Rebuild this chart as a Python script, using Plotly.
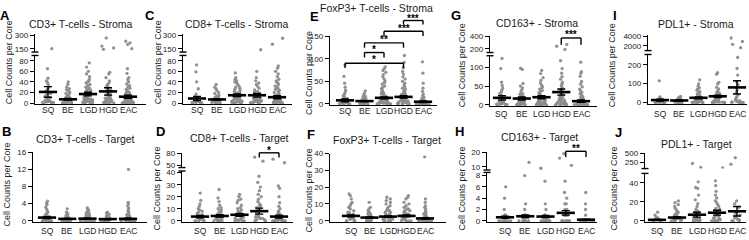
import plotly.graph_objects as go

W, H = 749, 240
CATEGORIES = ["SQ", "BE", "LGD", "HGD", "EAC"]

# ---------------- data (cell counts per core) -------------
# A: CD3+ T-cells - Stroma
A_SQ = [152, 65, 47, 42, 39, 35, 30, 27, 25, 22, 20, 18, 15, 12, 10, 8, 6, 5, 4, 3, 3, 2, 2, 1, 1, 0, 0]
A_BE = [40, 35, 30, 27, 25, 22, 20, 18, 16, 14, 12, 11, 10, 9, 8, 7, 7, 6, 5, 5, 4, 4, 3, 3, 2, 2, 2, 1, 1, 1, 0, 0, 0, 0]
A_LGD = [76, 68, 60, 55, 50, 45, 42, 40, 38, 35, 33, 30, 28, 27, 25, 24, 22, 20, 20, 18, 17, 16, 15, 14, 13, 12, 11, 10, 10, 9, 8, 8, 7, 6, 6, 5, 5, 4, 4, 3, 3, 2, 2, 1, 1, 0, 0, 0, 0]
A_HGD = [268, 180, 160, 145, 58, 55, 48, 42, 38, 35, 32, 30, 28, 25, 23, 22, 20, 18, 16, 15, 14, 12, 11, 10, 9, 8, 7, 6, 5, 5, 4, 3, 3, 2, 2, 1, 1, 0, 0, 0]
A_EAC = [233, 215, 197, 152, 65, 56, 48, 44, 40, 36, 33, 30, 28, 26, 24, 22, 20, 18, 17, 16, 15, 14, 13, 12, 11, 10, 9, 8, 8, 7, 6, 6, 5, 5, 4, 4, 3, 3, 2, 2, 2, 1, 1, 1, 0, 0, 0, 0, 0, 0]
A_MEAN = [21, 7, 17, 22, 12]
A_SEM = [10, 1.5, 3.5, 7, 3]

# C: CD8+ T-cells - Stroma
C_SQ = [72, 59, 40, 27, 17, 12, 10, 8, 6, 5, 4, 3, 2, 2, 1, 1, 0, 0, 0]
C_BE = [35, 30, 27, 24, 20, 18, 15, 13, 12, 10, 9, 8, 7, 6, 5, 5, 4, 3, 3, 2, 2, 1, 1, 0, 0, 0]
C_LGD = [57, 48, 45, 42, 40, 38, 35, 32, 30, 28, 26, 24, 22, 20, 19, 18, 16, 15, 14, 13, 12, 11, 10, 9, 8, 7, 6, 5, 4, 4, 3, 3, 2, 2, 1, 1, 0, 0, 0]
C_HGD = [140, 60, 48, 42, 38, 35, 32, 28, 25, 22, 20, 18, 16, 14, 12, 11, 10, 9, 8, 7, 6, 5, 4, 3, 3, 2, 2, 1, 1, 0, 0, 0]
C_EAC = [265, 200, 70, 66, 60, 55, 50, 45, 42, 40, 38, 35, 32, 30, 28, 26, 24, 22, 20, 18, 16, 15, 14, 12, 11, 10, 9, 8, 7, 6, 5, 5, 4, 4, 3, 3, 2, 2, 1, 1, 1, 0, 0, 0, 0, 0]
C_MEAN = [8.6, 6.8, 14.7, 14.7, 11]
C_SEM = [4, 1.5, 2.5, 3.5, 3]

# E: FoxP3+ T-cells - Stroma
E_SQ = [86, 61, 46, 37, 30, 25, 21, 18, 15, 12, 10, 8, 7, 6, 5, 4, 3, 3, 2, 2, 1, 1, 0, 0, 0]
E_BE = [29, 24, 20, 17, 15, 13, 12, 10, 9, 8, 7, 6, 5, 5, 4, 4, 3, 3, 2, 2, 1, 1, 1, 0, 0, 0, 0]
E_LGD = [82, 78, 74, 70, 65, 60, 55, 50, 47, 44, 40, 37, 34, 31, 28, 26, 24, 22, 20, 18, 16, 15, 14, 13, 12, 11, 10, 9, 8, 7, 6, 5, 5, 4, 4, 3, 3, 2, 2, 1, 1, 0, 0, 0, 0]
E_HGD = [107, 92, 80, 72, 66, 60, 55, 50, 46, 42, 38, 35, 32, 29, 27, 25, 23, 21, 20, 18, 17, 16, 15, 14, 13, 12, 11, 10, 9, 8, 7, 6, 6, 5, 4, 4, 3, 3, 2, 2, 1, 1, 0, 0, 0]
E_EAC = [93, 68, 46, 35, 28, 22, 18, 15, 12, 10, 9, 8, 7, 6, 5, 4, 4, 3, 3, 2, 2, 2, 1, 1, 1, 1, 0, 0, 0, 0, 0, 0, 0, 0]
E_MEAN = [8, 6.4, 13.6, 15.7, 5]
E_SEM = [3, 1, 2, 2.5, 2]

# G: CD163+ - Stroma
G_SQ = [123, 96, 60, 52, 45, 40, 35, 30, 26, 22, 20, 18, 15, 12, 10, 8, 6, 5, 4, 3, 2, 2, 1, 0, 0]
G_BE = [97, 94, 57, 50, 45, 40, 35, 30, 28, 25, 22, 20, 18, 16, 14, 12, 10, 9, 8, 7, 6, 5, 4, 3, 2, 2, 1, 1, 0, 0, 0]
G_LGD = [91, 83, 72, 65, 58, 52, 48, 45, 42, 38, 35, 32, 30, 28, 25, 23, 21, 20, 18, 16, 15, 14, 12, 11, 10, 9, 8, 7, 6, 5, 4, 3, 3, 2, 2, 1, 1, 0, 0, 0]
G_HGD = [268, 240, 190, 117, 96, 84, 75, 68, 60, 55, 50, 46, 42, 38, 35, 32, 30, 28, 26, 24, 22, 20, 18, 16, 15, 14, 12, 10, 9, 8, 7, 6, 5, 4, 3, 2, 2, 1, 1, 0, 0, 0]
G_EAC = [113, 88, 84, 76, 62, 55, 48, 42, 38, 33, 30, 26, 22, 20, 18, 15, 13, 11, 10, 9, 8, 7, 6, 5, 4, 4, 3, 3, 2, 2, 1, 1, 1, 0, 0, 0, 0, 0, 0, 0]
G_MEAN = [18.8, 17, 20.5, 34, 10]
G_SEM = [6, 4, 4, 8, 3]

# I: PDL1+ - Stroma
I_SQ = [115, 30, 22, 18, 14, 10, 8, 6, 5, 4, 3, 2, 2, 1, 1, 0, 0, 0]
I_BE = [32, 28, 24, 20, 17, 15, 12, 10, 8, 7, 6, 5, 4, 3, 2, 2, 1, 1, 0, 0, 0]
I_LGD = [120, 98, 88, 78, 72, 65, 58, 52, 46, 40, 35, 30, 26, 22, 19, 16, 14, 12, 10, 8, 7, 6, 5, 4, 3, 2, 2, 1, 1, 0, 0, 0]
I_HGD = [158, 150, 107, 98, 80, 72, 62, 55, 48, 42, 36, 30, 26, 22, 18, 15, 12, 10, 8, 7, 6, 5, 4, 3, 2, 2, 1, 1, 0, 0, 0]
I_EAC = [3600, 2900, 2300, 1600, 238, 180, 145, 110, 95, 80, 65, 52, 40, 30, 22, 15, 10, 8, 6, 4, 3, 2, 1, 0, 0, 0]
I_MEAN = [13, 11, 25, 33, 80]
I_SEM = [5, 3, 5, 6, 35]

# B: CD3+ T-cells - Target
B_SQ = [4.6, 4.2, 3.8, 3.2, 2.8, 2.4, 2.0, 1.8, 1.5, 1.3, 1.1, 1.0, 0.9, 0.8, 0.7, 0.6, 0.5, 0.4, 0.3, 0.2, 0.1, 0, 0, 0, 0, 0, 0]
B_BE = [2.8, 2.0, 1.6, 1.3, 1.1, 0.9, 0.8, 0.7, 0.6, 0.5, 0.4, 0.3, 0.3, 0.2, 0.2, 0.1, 0.1, 0, 0, 0, 0, 0, 0, 0]
B_LGD = [3.0, 2.7, 2.4, 2.0, 1.7, 1.5, 1.3, 1.1, 1.0, 0.9, 0.8, 0.7, 0.6, 0.5, 0.4, 0.3, 0.3, 0.2, 0.1, 0.1, 0, 0, 0, 0, 0, 0, 0, 0]
B_HGD = [2.0, 1.8, 1.5, 1.3, 1.1, 0.9, 0.8, 0.7, 0.6, 0.5, 0.4, 0.3, 0.2, 0.2, 0.1, 0.1, 0, 0, 0, 0, 0, 0, 0]
B_EAC = [12, 4.3, 4.0, 3.5, 3.0, 2.6, 2.2, 1.9, 1.6, 1.4, 1.2, 1.0, 0.9, 0.8, 0.7, 0.6, 0.5, 0.4, 0.3, 0.2, 0.2, 0.1, 0.1, 0, 0, 0, 0, 0, 0, 0, 0, 0]
B_MEAN = [0.75, 0.45, 0.5, 0.4, 0.45]
B_SEM = [0.2, 0.12, 0.12, 0.1, 0.15]

# D: CD8+ T-cells - Target
D_SQ = [23, 17, 14, 12, 10, 9, 8, 7, 6, 5, 4, 3, 3, 2, 2, 1, 1, 0, 0, 0, 0, 0]
D_BE = [26, 19, 16, 13, 11, 10, 9, 8, 7, 6, 5, 4, 3, 3, 2, 2, 1, 1, 0, 0, 0, 0, 0]
D_LGD = [22, 20, 18, 17, 15, 13, 11, 10, 9, 8, 7, 6, 5, 5, 4, 3, 3, 2, 2, 1, 1, 0, 0, 0, 0]
D_HGD = [70, 60, 37, 32, 28, 25, 22, 20, 18, 16, 14, 13, 12, 11, 10, 9, 8, 7, 6, 5, 4, 3, 3, 2, 2, 1, 1, 0, 0, 0, 0]
D_EAC = [65, 56, 29, 27, 20, 15, 12, 10, 8, 7, 6, 5, 4, 4, 3, 3, 2, 2, 1, 1, 1, 0, 0, 0, 0, 0, 0, 0]
D_MEAN = [3.5, 4, 5, 8, 3.5]
D_SEM = [1, 1, 1.2, 2.5, 1.2]

# F: FoxP3+ T-cells - Target
F_SQ = [16, 15, 13, 11, 10, 9, 8, 7, 6, 5, 5, 4, 4, 3, 3, 2, 2, 1, 1, 1, 0, 0, 0, 0]
F_BE = [11, 8, 7, 6, 5, 5, 4, 4, 3, 3, 2, 2, 2, 1, 1, 1, 1, 0, 0, 0, 0, 0, 0]
F_LGD = [14, 13, 12, 11, 10, 9, 8, 7, 6, 6, 5, 5, 4, 4, 3, 3, 3, 2, 2, 2, 1, 1, 1, 1, 0, 0, 0, 0, 0]
F_HGD = [15, 14, 13, 11, 10, 9, 8, 7, 7, 6, 6, 5, 5, 4, 4, 3, 3, 3, 2, 2, 2, 1, 1, 1, 0, 0, 0, 0]
F_EAC = [38, 13, 11, 9, 8, 7, 6, 5, 5, 4, 4, 3, 3, 2, 2, 2, 1, 1, 1, 1, 1, 0, 0, 0, 0, 0, 0, 0, 0, 0, 0]
F_MEAN = [2.9, 1.9, 2.5, 2.9, 1.4]
F_SEM = [0.6, 0.4, 0.4, 0.5, 0.4]

# H: CD163+ - Target
H_SQ = [6, 4, 2, 1, 1, 1, 0, 0, 0, 0, 0, 0, 0, 0, 0, 0]
H_BE = [13, 8, 3, 2, 1, 1, 1, 0, 0, 0, 0, 0, 0, 0, 0, 0, 0]
H_LGD = [9, 7, 3, 2, 1, 1, 1, 0, 0, 0, 0, 0, 0, 0, 0, 0, 0]
H_HGD = [19, 16, 11, 7, 5, 4, 3, 3, 2, 2, 1, 1, 1, 1, 0, 0, 0, 0, 0, 0, 0, 0]
H_EAC = [5, 3, 2, 1, 0, 0, 0, 0, 0, 0, 0, 0, 0, 0, 0, 0, 0, 0, 0]
H_MEAN = [0.62, 0.8, 0.75, 1.4, 0.2]
H_SEM = [0.2, 0.25, 0.2, 0.4, 0.1]

# J: PDL1+ - Target
J_SQ = [9, 6, 4, 3, 2, 1, 1, 0, 0, 0, 0]
J_BE = [21, 19, 17, 15, 13, 11, 9, 8, 7, 6, 5, 4, 3, 3, 2, 2, 1, 1, 0, 0, 0, 0]
J_LGD = [220, 110, 41, 35, 34, 27, 22, 18, 15, 12, 10, 9, 8, 7, 6, 5, 4, 3, 2, 2, 1, 1, 0, 0, 0, 0]
J_HGD = [95, 42, 37, 31, 27, 24, 21, 19, 17, 15, 13, 12, 11, 10, 9, 8, 7, 6, 5, 4, 3, 2, 2, 1, 1, 0, 0, 0, 0]
J_EAC = [380, 200, 21, 18, 14, 10, 8, 6, 4, 3, 2, 1, 1, 0, 0, 0]
J_MEAN = [1, 3.4, 6.4, 8.5, 10]
J_SEM = [0.5, 1, 2.5, 2.5, 5]

# ---------------- layout geometry (pixels) ------------------------------------
FONT = "Liberation Sans, Arial, sans-serif"
PT_COLOR = "#8c8c8c"
TXT = "#1a1a1a"

panels = [
    dict(letter="A", title="CD3+ T-cells - Stroma", data=[A_SQ, A_BE, A_LGD, A_HGD, A_EAC], mean=A_MEAN, sem=A_SEM,
         letter_xy=(5, 12), title_xy=(81, 21), ylab_xy=(9, 60), xpx=(35, 146), cat0=48, step=20, xlab_y=109,
         zero=102, ltop=(53, 90), lticks=[0, 20, 40, 60, 80], upper=dict(bot=49.5, top=31, rng=[115, 310], ticks=[150, 300]),
         brackets=[]),
    dict(letter="C", title="CD8+ T-cells - Stroma", data=[C_SQ, C_BE, C_LGD, C_HGD, C_EAC], mean=C_MEAN, sem=C_SEM,
         letter_xy=(150, 12), title_xy=(237, 21), ylab_xy=(158, 60), xpx=(183, 292), cat0=197, step=20, xlab_y=109,
         zero=102, ltop=(53, 90), lticks=[0, 20, 40, 60, 80], upper=dict(bot=49.5, top=31, rng=[115, 310], ticks=[150, 300]),
         brackets=[]),
    dict(letter="E", title="FoxP3+ T-cells - Stroma", data=[E_SQ, E_BE, E_LGD, E_HGD, E_EAC], mean=E_MEAN, sem=E_SEM,
         letter_xy=(314, 13), title_xy=(376, 4), ylab_xy=(309, 71), xpx=(330, 437), cat0=345, step=19.5, xlab_y=110,
         zero=103, ltop=(33, 150), lticks=[0, 50, 100, 150], upper=None,
         brackets=[(3, 4, 17, 21, "***", 12), (2, 4, 28, 33, "***", 23), (1, 3, 40, 45, "**", 34),
                   (1, 2, 50, 55, "*", 44), (0, 3, 61, 66, "*", 55)]),
    dict(letter="G", title="CD163+ - Stroma", data=[G_SQ, G_BE, G_LGD, G_HGD, G_EAC], mean=G_MEAN, sem=G_SEM,
         letter_xy=(456, 12), title_xy=(537, 20), ylab_xy=(462, 63), xpx=(490, 597), cat0=502, step=19.75, xlab_y=113,
         zero=104, ltop=(53.3, 130), lticks=[0, 50, 100], upper=dict(bot=50, top=32.5, rng=[140, 410], ticks=[200, 400]),
         brackets=[(3, 4, 35, 42, "***", 29)]),
    dict(letter="I", title="PDL1+ - Stroma", data=[I_SQ, I_BE, I_LGD, I_HGD, I_EAC], mean=I_MEAN, sem=I_SEM,
         letter_xy=(615, 12), title_xy=(696, 21), ylab_xy=(612, 63), xpx=(648, 747), cat0=660, step=19.25, xlab_y=113,
         zero=101.5, ltop=(52, 254), lticks=[0, 100, 200], upper=dict(bot=48, top=32, rng=[1000, 4200], ticks=[2000, 4000]),
         brackets=[]),
    dict(letter="B", title="CD3+ T-cells - Target", data=[B_SQ, B_BE, B_LGD, B_HGD, B_EAC], mean=B_MEAN, sem=B_SEM,
         letter_xy=(7, 131), title_xy=(85, 139), ylab_xy=(7, 186), xpx=(33, 147), cat0=47, step=20.25, xlab_y=234,
         zero=223.3, ltop=(152.7, 16), lticks=[0, 4, 8, 12, 16], upper=None, brackets=[]),
    dict(letter="D", title="CD8+ T-cells - Target", data=[D_SQ, D_BE, D_LGD, D_HGD, D_EAC], mean=D_MEAN, sem=D_SEM,
         letter_xy=(160, 131), title_xy=(239, 138.5), ylab_xy=(157, 190), xpx=(182, 293), cat0=200, step=19.75, xlab_y=234,
         zero=223.3, ltop=(172, 41.4), lticks=[0, 10, 20, 30, 40], upper=dict(bot=168.5, top=153, rng=[44, 81.5], ticks=[50, 80]),
         brackets=[(3, 4, 153.3, 158, "*", 148)]),
    dict(letter="F", title="FoxP3+ T-cells - Target", data=[F_SQ, F_BE, F_LGD, F_HGD, F_EAC], mean=F_MEAN, sem=F_SEM,
         letter_xy=(311, 134), title_xy=(387, 140), ylab_xy=(309, 192), xpx=(330, 446), cat0=351, step=18.5, xlab_y=234,
         zero=223.3, ltop=(154, 40), lticks=[0, 10, 20, 30, 40], upper=None, brackets=[]),
    dict(letter="H", title="CD163+ - Target", data=[H_SQ, H_BE, H_LGD, H_HGD, H_EAC], mean=H_MEAN, sem=H_SEM,
         letter_xy=(459, 131), title_xy=(539, 137.5), ylab_xy=(462, 190), xpx=(487, 597), cat0=505, step=20.25, xlab_y=234,
         zero=223.3, ltop=(173.5, 8.55), lticks=[0, 2, 4, 6, 8], upper=dict(bot=171, top=152, rng=[7.8, 20.5], ticks=[10, 20]),
         brackets=[(3, 4, 151.7, 157.7, "**", 146.7)]),
    dict(letter="J", title="PDL1+ - Target", data=[J_SQ, J_BE, J_LGD, J_HGD, J_EAC], mean=J_MEAN, sem=J_SEM,
         letter_xy=(618, 132), title_xy=(696, 144), ylab_xy=(614, 190), xpx=(645, 746), cat0=657, step=20, xlab_y=234,
         zero=223.3, ltop=(174.5, 49.8), lticks=[0, 20, 40], upper=dict(bot=169.5, top=153.5, rng=[80, 510], ticks=[250, 500]),
         brackets=[]),
]


def px_x(p):
    return p / W


def px_y(p):
    return 1 - p / H


fig = go.Figure()
layout = dict(width=W, height=H, margin=dict(l=0, r=0, t=0, b=0), paper_bgcolor="white",
              plot_bgcolor="rgba(0,0,0,0)", showlegend=False, boxmode="overlay",
              font=dict(family=FONT, color=TXT))
shapes, annotations = [], []
PAD = 1.5
yid = 0
for n, p in enumerate(panels, start=1):
    xname = "xaxis" if n == 1 else f"xaxis{n}"
    xref = "x" if n == 1 else f"x{n}"
    yid += 1
    ylow = yid
    ylow_ref = "y" if ylow == 1 else f"y{ylow}"
    yup_ref = None
    if p["upper"]:
        yid += 1
        yup_ref = f"y{yid}"

    x0, x1 = p["xpx"]
    r0 = -(p["cat0"] - x0) / p["step"]
    r1 = 4 + (x1 - (p["cat0"] + 4 * p["step"])) / p["step"]
    layout[xname] = dict(domain=[px_x(x0), px_x(x1)], range=[r0, r1], type="category",
                         categoryorder="array", categoryarray=CATEGORIES, anchor=ylow_ref,
                         showline=True, linewidth=1.4, linecolor="black", ticks="", showgrid=False,
                         zeroline=False, showticklabels=False, fixedrange=True)
    # category labels under the axis
    for cat in CATEGORIES:
        annotations.append(dict(text=cat, x=cat, xref=xref, y=px_y(p["xlab_y"]), yref="paper", showarrow=False,
                                xanchor="center", yanchor="middle", borderpad=0,
                                font=dict(size=8.5, family=FONT, color=TXT)))
    # lower segment
    ltop_px, ltop_val = p["ltop"]
    scale = (p["zero"] - ltop_px) / ltop_val
    ybot_px = p["zero"] + PAD
    ax_common = dict(anchor=xref, showline=True, linewidth=1.4, linecolor="black", ticks="outside",
                     ticklen=4, tickwidth=1.4, tickcolor="black", showgrid=False, zeroline=False,
                     tickfont=dict(size=8, family=FONT, color=TXT), fixedrange=True)
    layout["yaxis" if ylow == 1 else f"yaxis{ylow}"] = dict(
        domain=[px_y(ybot_px), px_y(ltop_px)], range=[-PAD / scale, ltop_val],
        tickmode="array", tickvals=p["lticks"], **ax_common)
    if p["upper"]:
        u = p["upper"]
        layout[f"yaxis{yid}"] = dict(domain=[px_y(u["bot"]), px_y(u["top"])], range=u["rng"],
                                     tickmode="array", tickvals=u["ticks"], **ax_common)
        for yy in (u["bot"], ltop_px):
            shapes.append(dict(type="line", xref="paper", yref="paper", x0=px_x(x0 - 3.5), x1=px_x(x0 + 3.5),
                               y0=px_y(yy), y1=px_y(yy), line=dict(color="black", width=1.4)))

    # points
    thr = ltop_val
    lx, ly, ux, uy = [], [], [], []
    for cat, vals in zip(CATEGORIES, p["data"]):
        for v in vals:
            if p["upper"] and v > thr:
                ux.append(cat)
                uy.append(v)
            else:
                lx.append(cat)
                ly.append(v)
    box_style = dict(boxpoints="all", jitter=1, pointpos=0, width=0.72, fillcolor="rgba(0,0,0,0)",
                     line=dict(width=0, color="rgba(0,0,0,0)"),
                     marker=dict(color=PT_COLOR, size=3.3, opacity=0.95), hoverinfo="skip", showlegend=False)
    fig.add_trace(go.Box(x=lx, y=ly, xaxis=xref, yaxis=ylow_ref, **box_style))
    if ux:
        fig.add_trace(go.Box(x=ux, y=uy, xaxis=xref, yaxis=yup_ref, **box_style))
    # mean +/- SEM
    fig.add_trace(go.Scatter(x=CATEGORIES, y=p["mean"], mode="markers", xaxis=xref, yaxis=ylow_ref,
                             marker=dict(symbol="line-ew", size=13, color="black", line=dict(width=2.6, color="black")),
                             error_y=dict(type="data", array=p["sem"], visible=True, width=4, thickness=1.4, color="black"),
                             cliponaxis=False, hoverinfo="skip", showlegend=False))

    # texts
    lx_, ly_ = p["letter_xy"]
    annotations.append(dict(text="<b>%s</b>" % p["letter"], x=px_x(lx_), y=px_y(ly_), xref="paper", yref="paper",
                            showarrow=False, xanchor="center", yanchor="middle", borderpad=0,
                            font=dict(size=13, family=FONT, color="black")))
    tx, ty = p["title_xy"]
    annotations.append(dict(text=p["title"], x=px_x(tx), y=px_y(ty), xref="paper", yref="paper", showarrow=False,
                            xanchor="center", yanchor="middle", borderpad=0,
                            font=dict(size=10.5, family=FONT, color=TXT)))
    yx, yy = p["ylab_xy"]
    annotations.append(dict(text="Cell Counts per Core", x=px_x(yx), y=px_y(yy), xref="paper", yref="paper",
                            showarrow=False, textangle=-90, xanchor="center", yanchor="middle", borderpad=0,
                            font=dict(size=9, family=FONT, color=TXT)))
    for (i, j, by, bd, txt, ty2) in p["brackets"]:
        xa = p["cat0"] + i * p["step"]
        xb = p["cat0"] + j * p["step"]
        for (xs0, ys0, xs1, ys1) in ((xa, bd, xa, by), (xa, by, xb, by), (xb, by, xb, bd)):
            shapes.append(dict(type="line", xref="paper", yref="paper", x0=px_x(xs0), y0=px_y(ys0),
                               x1=px_x(xs1), y1=px_y(ys1), line=dict(color="black", width=1.4)))
        annotations.append(dict(text="<b>%s</b>" % txt, x=px_x((xa + xb) / 2), y=px_y(ty2 + 2.5), xref="paper",
                                yref="paper", showarrow=False, xanchor="center", yanchor="middle", borderpad=0,
                                font=dict(size=10, family=FONT, color="black")))

layout["shapes"] = shapes
layout["annotations"] = annotations
fig.update_layout(**layout)
fig.write_html("out.html", config={"displayModeBar": False},
               post_script="document.body.style.margin='0px';document.body.style.overflow='hidden';")
